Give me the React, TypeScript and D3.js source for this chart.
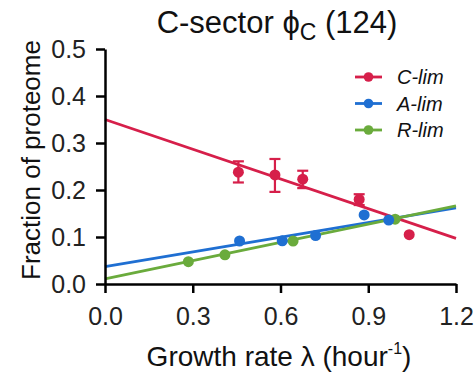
import { useEffect, useRef } from 'react'
import * as d3 from 'd3'

// C-lim (carbon limitation), with error bars
const cLimX = [0.456, 0.581, 0.676, 0.869, 1.04]
const cLimY = [0.238, 0.232, 0.223, 0.180, 0.105]
const cLimLo = [0.216, 0.196, 0.204, 0.168, null]
const cLimHi = [0.261, 0.266, 0.241, 0.191, null]
const cLimFit = [0.35, 0.097] // at x = 0 and x = 1.2

// A-lim
const aLimX = [0.46, 0.606, 0.72, 0.886, 0.97]
const aLimY = [0.0915, 0.092, 0.103, 0.147, 0.136]
const aLimFit = [0.037, 0.162]

// R-lim
const rLimX = [0.285, 0.41, 0.643, 0.992]
const rLimY = [0.0475, 0.062, 0.0915, 0.138]
const rLimFit = [0.011, 0.166]

const fitX = [0, 1.2]
const xTicks = [0, 0.3, 0.6, 0.9, 1.2]
const yTicks = [0, 0.1, 0.2, 0.3, 0.4, 0.5]
const legendNames = ['C-lim', 'A-lim', 'R-lim']

const RED = '#d61f4a'
const BLUE = '#1f6fd2'
const GREEN = '#6aab3c'

const series = [
  { name: legendNames[0], color: RED, xs: cLimX, ys: cLimY, fit: cLimFit },
  { name: legendNames[1], color: BLUE, xs: aLimX, ys: aLimY, fit: aLimFit },
  { name: legendNames[2], color: GREEN, xs: rLimX, ys: rLimY, fit: rLimFit }
]

const App = () => {
  const svgRef = useRef<SVGSVGElement>(null)

  useEffect(() => {
    const W = 475
    const H = 373
    const margin = { top: 49, right: 19, bottom: 89, left: 105 }
    const width = W - margin.left - margin.right
    const height = H - margin.top - margin.bottom
    const font = '"Liberation Sans", Arial, Helvetica, sans-serif'

    const root = d3.select(svgRef.current)
    root.selectAll('*').remove()
    root.attr('width', W).attr('height', H)

    const svg = root.append('g')
      .attr('transform', `translate(${margin.left},${margin.top})`)

    const x = d3.scaleLinear().domain([0, 1.2]).range([0, width])
    const y = d3.scaleLinear().domain([0, 0.5]).range([height, 0])

    // fit lines
    const line = d3.line<[number, number]>()
      .x(d => x(d[0]))
      .y(d => y(d[1]))

    series.forEach(s => {
      svg.append('path')
        .datum(fitX.map((v, i) => [v, s.fit[i]] as [number, number]))
        .attr('fill', 'none')
        .attr('stroke', s.color)
        .attr('stroke-width', 2.8)
        .attr('d', line)
    })

    // error bars for C-lim
    const eb = svg.append('g').attr('stroke', RED).attr('stroke-width', 2.2)
    cLimX.forEach((xv, i) => {
      const lo = cLimLo[i]
      const hi = cLimHi[i]
      if (lo == null || hi == null) return
      eb.append('line').attr('x1', x(xv)).attr('x2', x(xv)).attr('y1', y(lo)).attr('y2', y(hi))
      eb.append('line').attr('x1', x(xv) - 5.5).attr('x2', x(xv) + 5.5).attr('y1', y(lo)).attr('y2', y(lo))
      eb.append('line').attr('x1', x(xv) - 5.5).attr('x2', x(xv) + 5.5).attr('y1', y(hi)).attr('y2', y(hi))
    })

    // points
    series.slice().reverse().forEach(s => {
      svg.append('g').selectAll('circle')
        .data(s.xs.map((v, i) => [v, s.ys[i]]))
        .enter()
        .append('circle')
        .attr('cx', d => x(d[0]))
        .attr('cy', d => y(d[1]))
        .attr('r', 5.5)
        .attr('fill', s.color)
    })

    // axes
    const xAxis = svg.append('g')
      .attr('transform', `translate(0,${height})`)
      .call(d3.axisBottom(x).tickValues(xTicks).tickFormat(d3.format('.1f')).tickSize(9).tickSizeOuter(0))
    xAxis.select('.domain').attr('stroke-width', 2.5)
    xAxis.selectAll('.tick line').attr('stroke-width', 2.5)
    xAxis.selectAll('.tick text')
      .attr('font-family', font).attr('font-size', 25).attr('fill', '#222')
      .attr('y', 41).attr('dy', null)

    const yAxis = svg.append('g')
      .call(d3.axisLeft(y).tickValues(yTicks).tickFormat(d3.format('.1f')).tickSize(9).tickSizeOuter(0))
    yAxis.select('.domain').attr('stroke-width', 2.5)
    yAxis.selectAll('.tick line').attr('stroke-width', 2.5)
    yAxis.selectAll('.tick text')
      .attr('font-family', font).attr('font-size', 25).attr('fill', '#222').attr('x', -19)

    // title
    const title = root.append('text')
      .attr('x', 277)
      .attr('y', 33)
      .attr('text-anchor', 'middle')
      .attr('font-family', font)
      .attr('font-size', 31)
      .attr('fill', '#111')
    title.append('tspan').text('C-sector ')
    title.append('tspan').text('\u03d5')
    title.append('tspan').attr('font-size', 23).attr('dy', 7).text('C')
    title.append('tspan').attr('dy', -7).text(' (124)')

    // y label
    root.append('text')
      .attr('transform', 'translate(40,160) rotate(-90)')
      .attr('text-anchor', 'middle')
      .attr('font-family', font)
      .attr('font-size', 26)
      .attr('fill', '#111')
      .text('Fraction of proteome')

    // x label
    const xl = root.append('text')
      .attr('x', 279)
      .attr('y', 366)
      .attr('text-anchor', 'middle')
      .attr('font-family', font)
      .attr('font-size', 28)
      .attr('fill', '#111')
    xl.append('tspan').text('Growth rate \u03bb (hour')
    xl.append('tspan').attr('font-size', 16).attr('dy', -12).text('-1')
    xl.append('tspan').attr('dy', 12).text(')')

    // legend
    const lg = root.append('g').attr('transform', 'translate(355,77)')
    series.forEach((s, i) => {
      const g = lg.append('g').attr('transform', `translate(0,${i * 26.5})`)
      g.append('line').attr('x1', 0).attr('x2', 27).attr('y1', 0).attr('y2', 0)
        .attr('stroke', s.color).attr('stroke-width', 2.8)
      g.append('circle').attr('cx', 13.5).attr('cy', 0).attr('r', 4.8).attr('fill', s.color)
      g.append('text')
        .attr('x', 42)
        .attr('y', 0)
        .attr('dy', '0.36em')
        .attr('font-family', font)
        .attr('font-style', 'italic')
        .attr('font-size', 20)
        .attr('fill', '#111')
        .text(s.name)
    })
  }, [])

  return <svg ref={svgRef} style={{ position: 'absolute', left: 0, top: 0 }}></svg>
}

export default App
